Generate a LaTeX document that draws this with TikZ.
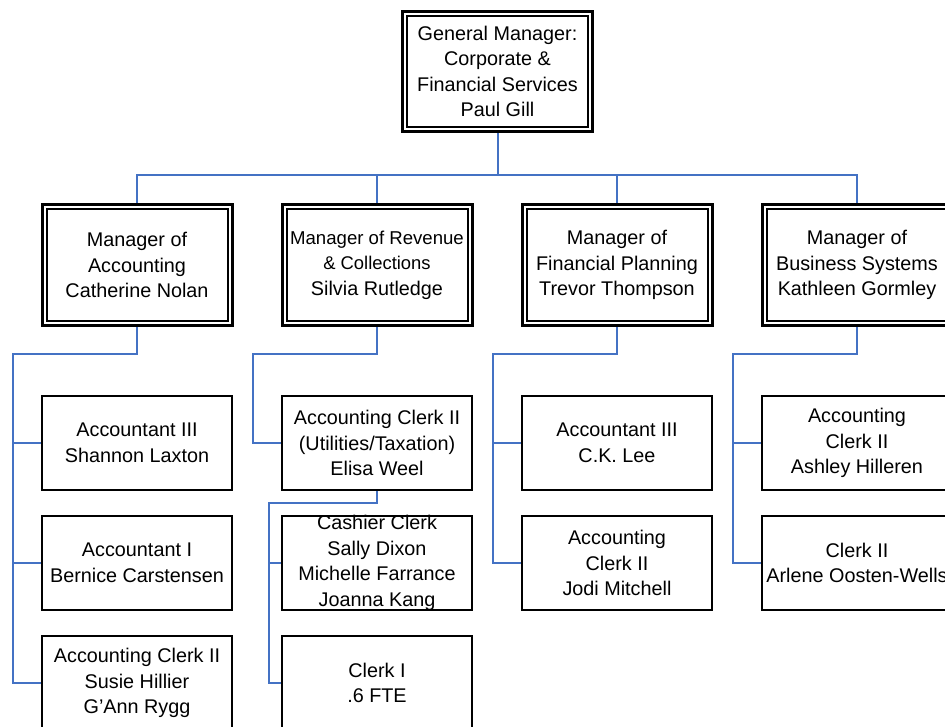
\documentclass[tikz,border=0pt]{standalone}
\usepackage{fontspec}
\setmainfont{Liberation Sans}
\definecolor{linkblue}{HTML}{4472C4}
\begin{document}
\begin{tikzpicture}[x=1pt,y=-1pt,
  txt/.style={align=center,font=\fontsize{19.8}{25.5}\selectfont,inner sep=0pt},
  mgrbox/.style={txt,draw,line width=3pt,minimum width=190pt,minimum height=121pt,
    path picture={\draw[line width=2pt]
      ([shift={(4.5pt,-4.5pt)}]path picture bounding box.north west) rectangle
      ([shift={(-4.5pt,4.5pt)}]path picture bounding box.south east);}},
  staffbox/.style={txt,draw,line width=2pt,minimum width=190pt,minimum height=94pt},
  conn/.style={draw=linkblue,line width=2pt}]
\useasboundingbox (0,0) rectangle (945,727);
\clip (0,0) rectangle (945,727);

% general manager
\node[mgrbox,minimum height=120pt] (gm) at (497.5,71.5)
  {General Manager:\\Corporate \&\\Financial Services\\Paul Gill};

% managers
\node[mgrbox] (m1) at (137,265) {Manager of\\Accounting\\Catherine Nolan};
\node[mgrbox] (m2) at (377,265)
  {{\fontsize{18.6}{25}\selectfont Manager of Revenue}\\
   {\fontsize{18.4}{24}\selectfont \& Collections}\\Silvia Rutledge};
\node[mgrbox] (m3) at (617,265) {Manager of\\Financial Planning\\Trevor Thompson};
\node[mgrbox] (m4) at (857,265) {Manager of\\Business Systems\\Kathleen Gormley};

% accounting staff
\node[staffbox] (a1) at (137,443) {Accountant III\\Shannon Laxton};
\node[staffbox] (a2) at (137,563) {Accountant I\\Bernice Carstensen};
\node[staffbox] (a3) at (137,683) {Accounting Clerk II\\Susie Hillier\\G’Ann Rygg};

% revenue staff
\node[staffbox] (r1) at (377,443) {Accounting Clerk II\\(Utilities/Taxation)\\Elisa Weel};
\node[staffbox,label={[txt]center:Cashier Clerk\\Sally Dixon\\Michelle Farrance\\Joanna Kang}]
  (r2) at (377,563) {};
\node[staffbox] (r3) at (377,683) {Clerk I\\.6 FTE};

% financial planning staff
\node[staffbox] (f1) at (617,443) {Accountant III\\C.K. Lee};
\node[staffbox] (f2) at (617,563) {Accounting\\Clerk II\\Jodi Mitchell};

% business systems staff
\node[staffbox] (b1) at (857,443) {Accounting\\Clerk II\\Ashley Hilleren};
\node[staffbox] (b2) at (857,563) {Clerk II\\Arlene Oosten-Wells};

% junction points
\coordinate (bus) at (0,175);
\coordinate (t1) at (13,354);
\coordinate (t2) at (253,354);
\coordinate (t3) at (269,503);
\coordinate (t4) at (493,354);
\coordinate (t5) at (733,354);

% top level connectors
\draw[conn] (gm.south) -- (gm.south |- bus);
\draw[conn] (m1.north) -- (m1.north |- bus) -- (m4.north |- bus) -- (m4.north);
\draw[conn] (m2.north) -- (m2.north |- bus);
\draw[conn] (m3.north) -- (m3.north |- bus);

% accounting
\draw[conn] (m1.south) |- (t1) |- (a3.west);
\draw[conn] (t1) |- (a1.west);
\draw[conn] (t1) |- (a2.west);

% revenue
\draw[conn] (m2.south) |- (t2) |- (r1.west);
\draw[conn] (r1.south) |- (t3) |- (r3.west);
\draw[conn] (t3) |- (r2.west);

% financial planning
\draw[conn] (m3.south) |- (t4) |- (f2.west);
\draw[conn] (t4) |- (f1.west);

% business systems
\draw[conn] (m4.south) |- (t5) |- (b2.west);
\draw[conn] (t5) |- (b1.west);
\end{tikzpicture}
\end{document}
